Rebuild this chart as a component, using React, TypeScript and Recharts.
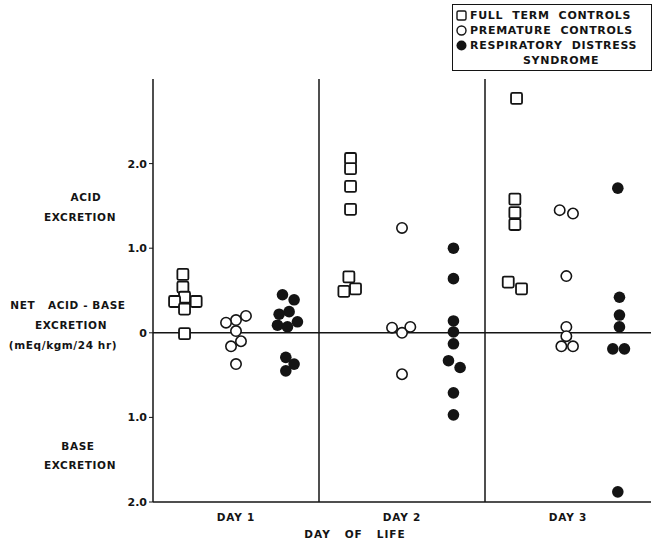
import { ScatterChart, Scatter, XAxis, YAxis, ReferenceLine } from "recharts";

// x = position along the day axis (day 1 spans 0..1, day 2 spans 1..2, day 3 spans 2..3)
// y = net acid-base excretion, mEq/kgm/24 hr (negative = base excretion)
const dayLabels = ["DAY 1", "DAY 2", "DAY 3"];
const dayTicks = [0.5, 1.5, 2.5];
const valueTicks = [-2, -1, 0, 1, 2];

const fullTermControls = [
    {x: 0.18, y: 0.69}, {x: 0.18, y: 0.54}, {x: 0.19, y: 0.42}, {x: 0.13, y: 0.37},
    {x: 0.26, y: 0.37}, {x: 0.19, y: 0.28}, {x: 0.19, y: -0.01},
    {x: 1.19, y: 2.06}, {x: 1.19, y: 1.94}, {x: 1.19, y: 1.73}, {x: 1.19, y: 1.46},
    {x: 1.18, y: 0.66}, {x: 1.22, y: 0.52}, {x: 1.15, y: 0.49},
    {x: 2.19, y: 2.77}, {x: 2.18, y: 1.58}, {x: 2.18, y: 1.42}, {x: 2.18, y: 1.28},
    {x: 2.14, y: 0.60}, {x: 2.22, y: 0.52},
];

const prematureControls = [
    {x: 0.56, y: 0.20}, {x: 0.50, y: 0.15}, {x: 0.44, y: 0.12}, {x: 0.50, y: 0.02},
    {x: 0.53, y: -0.10}, {x: 0.47, y: -0.16}, {x: 0.50, y: -0.37},
    {x: 1.50, y: 1.24}, {x: 1.44, y: 0.06}, {x: 1.50, y: 0.0}, {x: 1.55, y: 0.07},
    {x: 1.50, y: -0.49},
    {x: 2.45, y: 1.45}, {x: 2.53, y: 1.41}, {x: 2.49, y: 0.67}, {x: 2.49, y: 0.07},
    {x: 2.49, y: -0.04}, {x: 2.46, y: -0.16}, {x: 2.53, y: -0.16},
];

const respiratoryDistress = [
    {x: 0.78, y: 0.45}, {x: 0.85, y: 0.39}, {x: 0.82, y: 0.25}, {x: 0.76, y: 0.22},
    {x: 0.87, y: 0.13}, {x: 0.75, y: 0.09}, {x: 0.81, y: 0.07}, {x: 0.80, y: -0.29},
    {x: 0.85, y: -0.37}, {x: 0.80, y: -0.45},
    {x: 1.81, y: 1.00}, {x: 1.81, y: 0.64}, {x: 1.81, y: 0.14}, {x: 1.81, y: 0.01},
    {x: 1.81, y: -0.13}, {x: 1.78, y: -0.33}, {x: 1.85, y: -0.41}, {x: 1.81, y: -0.71},
    {x: 1.81, y: -0.97},
    {x: 2.80, y: 1.71}, {x: 2.81, y: 0.42}, {x: 2.81, y: 0.21}, {x: 2.81, y: 0.07},
    {x: 2.77, y: -0.19}, {x: 2.84, y: -0.19}, {x: 2.80, y: -1.88},
];

const sideLabels = [
    {text: "ACID", x: 86, y: 197},
    {text: "EXCRETION", x: 80, y: 217},
    {text: "NET   ACID - BASE", x: 68, y: 305},
    {text: "EXCRETION", x: 71, y: 325},
    {text: "(mEq/kgm/24 hr)", x: 63, y: 345},
    {text: "BASE", x: 78, y: 446},
    {text: "EXCRETION", x: 80, y: 465},
];

const ink = "#141414";
const font = "'DejaVu Sans', sans-serif";

const Square = (props: any) => {
    const {cx, cy} = props;
    return <rect x={cx - 5.5} y={cy - 5.5} width={11} height={11} rx={1.5} fill="#fff" stroke={ink} strokeWidth={1.8}/>;
};

const OpenCircle = (props: any) => {
    const {cx, cy} = props;
    return <circle cx={cx} cy={cy} r={5.2} fill="#fff" stroke={ink} strokeWidth={1.6}/>;
};

const FilledCircle = (props: any) => {
    const {cx, cy} = props;
    return <circle cx={cx} cy={cy} r={5.8} fill={ink}/>;
};

const textStyle = {
    position: "absolute" as const,
    fontFamily: font,
    fontWeight: 700,
    fontSize: 10.5,
    letterSpacing: 0.6,
    color: ink,
    whiteSpace: "pre" as const,
    transform: "translate(-50%, -50%)",
    lineHeight: 1,
};

const legendText = {...textStyle, transform: "none", fontSize: 11, letterSpacing: 0.7};

const App = () => {
    return <div style={{position: "absolute", left: 0, top: 0, width: 664, height: 542, background: "#fff"}}>
        <ScatterChart width={664} height={542} margin={{top: 79, right: 13, bottom: 10, left: 93}}>
            <XAxis
                type="number"
                dataKey="x"
                domain={[0, 3]}
                ticks={dayTicks}
                tickFormatter={(v: number) => dayLabels[Math.floor(v)]}
                tickLine={false}
                axisLine={{stroke: ink, strokeWidth: 1.5}}
                tick={{fill: ink, fontSize: 10.5, fontWeight: 700, fontFamily: font, letterSpacing: 0.8}}
                height={30}
                tickMargin={6}
            />
            <YAxis
                type="number"
                dataKey="y"
                domain={[-2, 3]}
                ticks={valueTicks}
                tickFormatter={(v: number) => v === 0 ? "0" : Math.abs(v).toFixed(1)}
                axisLine={{stroke: ink, strokeWidth: 1.5}}
                tickLine={{stroke: ink}}
                tickSize={4}
                tickMargin={2}
                tick={{fill: ink, fontSize: 11, fontWeight: 700, fontFamily: font}}
                width={60}
            />
            <ReferenceLine y={0} stroke={ink} strokeWidth={1.5}/>
            <ReferenceLine x={1} stroke={ink} strokeWidth={1.5}/>
            <ReferenceLine x={2} stroke={ink} strokeWidth={1.5}/>
            <Scatter data={fullTermControls} shape={Square} isAnimationActive={false}/>
            <Scatter data={prematureControls} shape={OpenCircle} isAnimationActive={false}/>
            <Scatter data={respiratoryDistress} shape={FilledCircle} isAnimationActive={false}/>
        </ScatterChart>

        {sideLabels.map((l, i) => (
            <div key={i} style={{...textStyle, left: l.x, top: l.y}}>{l.text}</div>
        ))}
        <div style={{...textStyle, left: 355, top: 534, letterSpacing: 1}}>{"DAY   OF   LIFE"}</div>

        <div style={{
            position: "absolute", left: 452, top: 4, width: 200, height: 67,
            border: `1.5px solid ${ink}`, boxSizing: "border-box",
        }}>
            <svg width={200} height={67} style={{position: "absolute", left: 0, top: 0}}>
                <rect x={4} y={6} width={9} height={9} rx={1.5} fill="#fff" stroke={ink} strokeWidth={1.4}/>
                <circle cx={8.5} cy={25.5} r={4.5} fill="#fff" stroke={ink} strokeWidth={1.4}/>
                <circle cx={8.5} cy={40.5} r={5} fill={ink}/>
            </svg>
            <div style={{...legendText, left: 17, top: 5}}>{"FULL  TERM  CONTROLS"}</div>
            <div style={{...legendText, left: 17, top: 20}}>{"PREMATURE  CONTROLS"}</div>
            <div style={{...legendText, left: 17, top: 35}}>{"RESPIRATORY  DISTRESS"}</div>
            <div style={{...legendText, left: 70, top: 50}}>{"SYNDROME"}</div>
        </div>
    </div>;
};

export default App;
